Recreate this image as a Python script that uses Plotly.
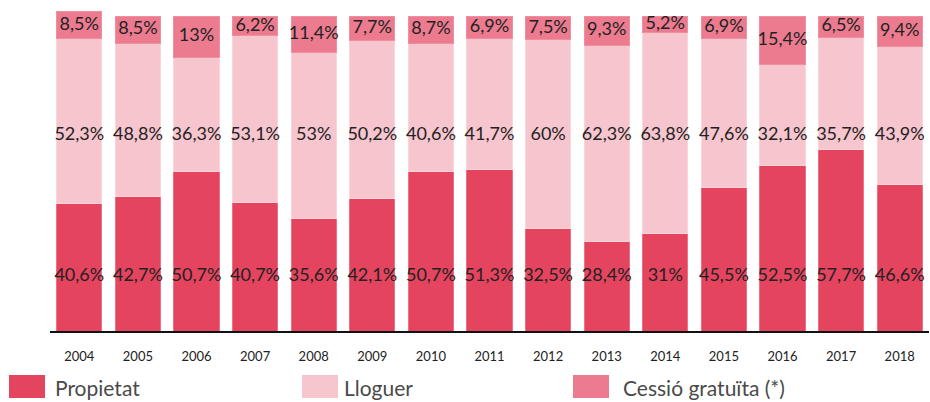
import plotly.graph_objects as go

anys = [str(a) for a in range(2004, 2019)]
propietat = [40.6, 42.7, 50.7, 40.7, 35.6, 42.1, 50.7, 51.3, 32.5, 28.4, 31, 45.5, 52.5, 57.7, 46.6]
lloguer = [52.3, 48.8, 36.3, 53.1, 53, 50.2, 40.6, 41.7, 60, 62.3, 63.8, 47.6, 32.1, 35.7, 43.9]
cessio = [8.5, 8.5, 13, 6.2, 11.4, 7.7, 8.7, 6.9, 7.5, 9.3, 5.2, 6.9, 15.4, 6.5, 9.4]

C_PROP = "#E5445F"
C_LLOG = "#F7C5CE"
C_CESS = "#EC7B8F"
FONT = "Lato, 'Open Sans', sans-serif"


def pct(v):
    return f"{v:g}".replace(".", ",") + "%"


fig = go.Figure()
for nom, vals, col, edge in [
    ("Propietat", propietat, C_PROP, "#EE6F86"),
    ("Lloguer", lloguer, C_LLOG, "#FAD6DC"),
    ("Cessió gratuïta (*)", cessio, C_CESS, "#F0909F"),
]:
    fig.add_trace(go.Bar(
        x=anys, y=vals, name=nom,
        marker=dict(color=col, line=dict(color=edge, width=1)),
        hovertemplate="%{x}<br>" + nom + ": %{y}%<extra></extra>",
    ))

# etiquetes de valor
Y_PROP = 17.2
Y_LLOG = 62
y_cess = [p + l + c / 2 for p, l, c in zip(propietat, lloguer, cessio)]
for vals, ys in [
    (propietat, [Y_PROP] * len(anys)),
    (lloguer, [Y_LLOG] * len(anys)),
    (cessio, y_cess),
]:
    fig.add_trace(go.Scatter(
        x=anys, y=ys, mode="text", text=[pct(v) for v in vals],
        textfont=dict(size=18, color="#222222", family=FONT),
        hoverinfo="skip", showlegend=False,
    ))

# llegenda feta a mà
W, H = 930, 402
ML, MR, MT, MB = 50, 1, 10, 71
pw, ph = W - ML - MR, H - MT - MB


def px_x(p):
    return (p - ML) / pw


def px_y(q):
    return (H - MB - q) / ph


llegenda = [
    ("Propietat", C_PROP, 9, 53),
    ("Lloguer", C_LLOG, 302, 342),
    ("Cessió gratuïta (*)", C_CESS, 573, 621),
]
for nom, col, x0, xt in llegenda:
    fig.add_shape(type="rect", xref="paper", yref="paper",
                  x0=px_x(x0), x1=px_x(x0 + 36), y0=px_y(398), y1=px_y(375),
                  fillcolor=col, line=dict(width=0))
    fig.add_annotation(xref="paper", yref="paper", x=px_x(xt), y=px_y(387),
                       text=nom, showarrow=False, xanchor="left", yanchor="middle",
                       font=dict(size=21, color="#4a4a4a", family=FONT))

fig.update_layout(
    barmode="stack",
    bargap=0.23,
    width=W, height=H,
    margin=dict(l=ML, r=MR, t=MT, b=MB),
    plot_bgcolor="white",
    paper_bgcolor="white",
    showlegend=False,
    font=dict(family=FONT, color="#222222"),
    xaxis=dict(
        type="category", range=[-0.5, len(anys) - 0.5],
        showline=True, linecolor="#111111", linewidth=1.5,
        showgrid=False, ticks="", tickfont=dict(size=13, color="#222222"),
        ticklabelstandoff=13, layer="below traces",
    ),
    yaxis=dict(range=[0, 102], visible=False, showgrid=False, zeroline=False),
)

fig.write_html(
    "out.html",
    config={"displayModeBar": False},
    post_script="document.body.style.margin='0';document.body.style.overflow='hidden';",
)
